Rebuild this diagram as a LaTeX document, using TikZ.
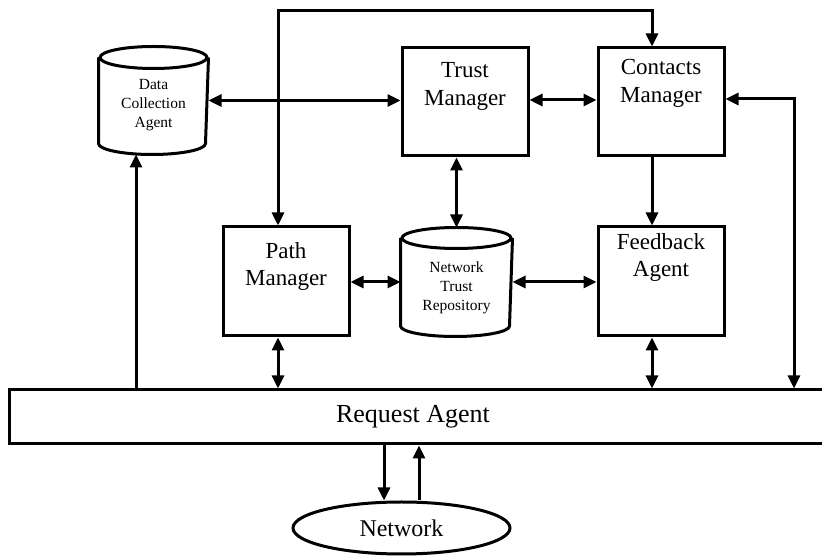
\documentclass[tikz,border=0pt]{standalone}
\usepackage{fontspec}
\setmainfont{Liberation Serif}
\usetikzlibrary{arrows.meta,shapes.geometric}

\begin{document}
\begin{tikzpicture}[x=1pt,y=1pt,line width=3pt,
  link/.style={-{Triangle[length=13pt,width=12pt]}},
  dlink/.style={{Triangle[length=13pt,width=12pt]}-{Triangle[length=13pt,width=12pt]}},
  box/.style={draw,line width=3pt,minimum width=126pt,inner sep=0pt},
  drum/.style={inner sep=0pt},
  boxtext/.style={font=\fontsize{23}{27.5}\selectfont,align=center,anchor=north,inner sep=0pt},
  drumtext/.style={font=\fontsize{15.5}{19}\selectfont,align=center,inner sep=0pt},
  outline/.style={line width=3pt}]

\useasboundingbox (0,0) rectangle (822,556);
\clip (0,0) rectangle (822,556);

% ---- boxes
\node[box,minimum height=108pt] (trust)    at (465,454)   {};
\node[box,minimum height=108pt] (contacts) at (661,454)   {};
\node[box,minimum height=109pt] (path)     at (286,274.5) {};
\node[box,minimum height=109pt] (feedback) at (661,274.5) {};
\node[box,minimum width=821pt,minimum height=54pt] (ra) at (419.5,139) {};

\node[boxtext] (trustlbl)    at ([yshift=-14.5pt]trust.north)    {Trust\\Manager};
\node[boxtext] (contactslbl) at ([yshift=-11.5pt]contacts.north) {Contacts\\Manager};
\node[boxtext] (pathlbl)     at ([yshift=-15.5pt]path.north)     {Path\\Manager};
\node[boxtext] (feedbacklbl) at ([yshift=-6.5pt]feedback.north)  {Feedback\\Agent};
\node[font=\fontsize{26}{30}\selectfont,inner sep=0pt] (ralbl) at (413,139) {Request Agent};

% ---- data stores (cylinders)
\node[drum,minimum width=107pt,minimum height=105pt] (dca) at (153.5,455.5) {};
\node[drum,minimum width=109pt,minimum height=106pt] (ntr) at (456.5,274) {};

\draw[outline] ([yshift=-11pt]dca.north west) -- ([yshift=11pt]dca.south west)
  arc[start angle=180,end angle=360,x radius=53.5pt,y radius=11pt]
  -- ([yshift=-11pt]dca.north east);
\draw[outline] ([yshift=-11pt]dca.north) ellipse [x radius=53.5pt,y radius=11pt];

\draw[outline] ([yshift=-10.5pt]ntr.north west) -- ([yshift=10.5pt]ntr.south west)
  arc[start angle=180,end angle=360,x radius=54.5pt,y radius=10.5pt]
  -- ([yshift=-10.5pt]ntr.north east);
\draw[outline] ([yshift=-10.5pt]ntr.north) ellipse [x radius=54.5pt,y radius=10.5pt];

\node[drumtext] (dcalbl) at ([yshift=-5pt]dca.center) {Data\\Collection\\Agent};
\node[drumtext] (ntrlbl) at ([yshift=-6pt]ntr.center) {Network\\Trust\\Repository};

% ---- network
\node[draw,outline,ellipse,minimum width=217pt,minimum height=52pt,inner sep=0pt,
      font=\fontsize{24}{28}\selectfont] (net) at (401.5,28) {Network};

% ---- connectors
\coordinate (top) at (278,545);
\coordinate (rc)  at (794,457);
\coordinate (pathin)  at ([xshift=-8pt]path.north);
\coordinate (pathout) at ([xshift=-8pt]path.south);
\coordinate (conin)   at ([xshift=-9pt]contacts.north);
\coordinate (conout)  at ([xshift=-9pt]contacts.south);
\coordinate (fbin)    at ([xshift=-9pt]feedback.north);
\coordinate (fbout)   at ([xshift=-9pt]feedback.south);
\coordinate (dcain)   at ([xshift=-17.5pt]dca.south);
\coordinate (netin)   at ([xshift=-17.5pt]net.north);
\coordinate (netout)  at ([xshift=17.5pt]net.north);

\draw[dlink] (pathin) |- (top) -| (conin);
\draw[dlink] (dca.east) -- (dca.east -| trust.west);
\draw[dlink] ([yshift=2pt]trust.east) -- ([yshift=2pt]trust.east -| contacts.west);
\draw[dlink] (trust.south -| ntr.north) -- (ntr.north);
\draw[dlink] (path.east |- ntr.west) -- (ntr.west);
\draw[dlink] (ntr.east) -- (ntr.east -| feedback.west);
\draw[link]  (conout) -- (fbin);
\draw[dlink] ([yshift=3pt]contacts.east) -- (rc) -- (rc |- ra.north);
\draw[dlink] (pathout) -- (pathout |- ra.north);
\draw[dlink] (fbout) -- (fbout |- ra.north);
\draw[link]  (dcain |- ra.north) -- (dcain);
\draw[link]  (netin |- ra.south) -- (netin);
\draw[link]  (netout) -- (netout |- ra.south);

\end{tikzpicture}
\end{document}
